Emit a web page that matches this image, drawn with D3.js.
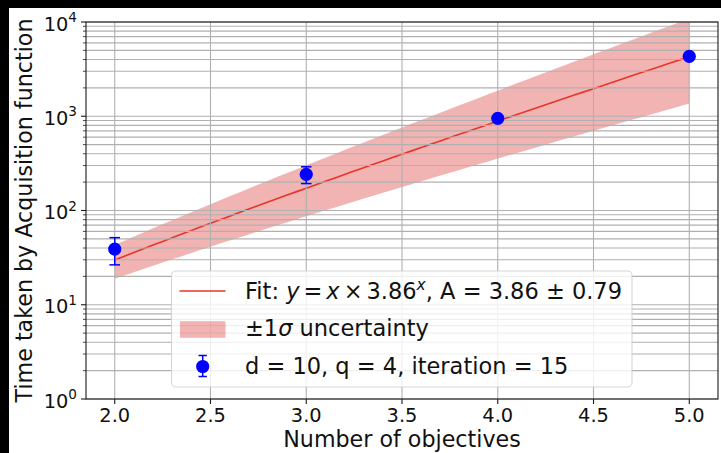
<!DOCTYPE html>
<html>
<head>
<meta charset="utf-8">
<script src="https://cdn.jsdelivr.net/npm/d3@7/dist/d3.min.js"></script>
<style>
  html, body { margin: 0; padding: 0; background: #000; }
  svg { display: block; }
  text { font-family: "DejaVu Sans", sans-serif; fill: #111; }
</style>
</head>
<body>
<svg id="chart" width="721" height="453"></svg>
<script>
// Measured acquisition-function timings per number of objectives
const objectives = [2, 3, 4, 5];
const timeMean = [39, 242, 951, 4325];
const timeStd = [12.5, 49, 25, 90];

// Fitted model y = x * A^x and its 1-sigma spread on A
const fitA = [3.86];
const fitSigma = [0.79];

const xTicks = [2.0, 2.5, 3.0, 3.5, 4.0, 4.5, 5.0];
const yDecades = [0, 1, 2, 3, 4];

const legendLabels = ["Fit: ", "±1", " uncertainty", "d = 10, q = 4, iteration = 15"];

const W = 721, H = 453;
const m = { left: 86, right: 718, top: 22, bottom: 399 };

const svg = d3.select("#chart");

// figure background (offset by a thin dark edge)
svg.append("rect").attr("x", 9).attr("y", 8).attr("width", W - 9).attr("height", H - 8).attr("fill", "#fff");

const x = d3.scaleLinear().domain([1.85, 5.15]).range([m.left, m.right]);
const y = d3.scaleLog().domain([1, 1e4]).range([m.bottom, m.top]);

svg.append("defs").append("clipPath").attr("id", "plotClip")
  .append("rect").attr("x", m.left).attr("y", m.top)
  .attr("width", m.right - m.left).attr("height", m.bottom - m.top);

const plot = svg.append("g").attr("clip-path", "url(#plotClip)");

// model curves sampled across the objective range
const model = (xv, a) => xv * Math.pow(a, xv);
const xs = d3.range(0, 61).map(i => objectives[0] + i * (objectives[objectives.length - 1] - objectives[0]) / 60);
const A = fitA[0], S = fitSigma[0];

// uncertainty band
const area = d3.area()
  .x(d => x(d))
  .y0(d => y(model(d, A - S)))
  .y1(d => y(model(d, A + S)));
plot.append("path").datum(xs).attr("d", area)
  .attr("fill", "#d60b0b").attr("fill-opacity", 0.31);

// grid: major and minor on the log axis, major on x
const gridColor = "#b0b0b0";
const yMinor = [];
yDecades.forEach(k => { if (k < 4) for (let j = 2; j <= 9; j++) yMinor.push(j * Math.pow(10, k)); });
const yMajor = yDecades.map(k => Math.pow(10, k));
const grid = svg.append("g");
grid.selectAll(".gy").data(yMinor.concat(yMajor)).join("line")
  .attr("x1", m.left).attr("x2", m.right)
  .attr("y1", d => y(d)).attr("y2", d => y(d))
  .attr("stroke", gridColor).attr("stroke-width", 1.1);
grid.selectAll(".gx").data(xTicks).join("line")
  .attr("x1", d => x(d)).attr("x2", d => x(d))
  .attr("y1", m.top).attr("y2", m.bottom)
  .attr("stroke", gridColor).attr("stroke-width", 1.1);

// fit line
const line = d3.line().x(d => x(d)).y(d => y(model(d, A)));
plot.append("path").datum(xs).attr("d", line)
  .attr("fill", "none").attr("stroke", "#e8352a").attr("stroke-width", 1.6);

// measurements with error bars
const pts = objectives.map((o, i) => ({ o, v: timeMean[i], e: timeStd[i] }));
const eb = svg.append("g");
pts.forEach(p => {
  const cx = x(p.o);
  const y1 = y(p.v + p.e), y2 = y(p.v - p.e);
  eb.append("line").attr("x1", cx).attr("x2", cx).attr("y1", y1).attr("y2", y2)
    .attr("stroke", "#0000ff").attr("stroke-width", 1.5);
  [y1, y2].forEach(yy => eb.append("line").attr("x1", cx - 5.3).attr("x2", cx + 5.3)
    .attr("y1", yy).attr("y2", yy).attr("stroke", "#0000ff").attr("stroke-width", 1.5));
  eb.append("circle").attr("cx", cx).attr("cy", y(p.v)).attr("r", 6.6).attr("fill", "#0000ff");
});

// axes frame
svg.append("rect").attr("x", m.left).attr("y", m.top)
  .attr("width", m.right - m.left).attr("height", m.bottom - m.top)
  .attr("fill", "none").attr("stroke", "#1a1a1a").attr("stroke-width", 1.1);

// y ticks
const ax = svg.append("g");
ax.selectAll(".ymaj").data(yMajor).join("line")
  .attr("x1", m.left - 5).attr("x2", m.left).attr("y1", d => y(d)).attr("y2", d => y(d))
  .attr("stroke", "#1a1a1a").attr("stroke-width", 1.1);
ax.selectAll(".ymin").data(yMinor).join("line")
  .attr("x1", m.left - 3).attr("x2", m.left).attr("y1", d => y(d)).attr("y2", d => y(d))
  .attr("stroke", "#1a1a1a").attr("stroke-width", 0.8);
yDecades.forEach(k => {
  const t = ax.append("text").attr("x", 77).attr("y", y(Math.pow(10, k)) + 8.7)
    .attr("text-anchor", "end").attr("font-size", 19.4);
  t.append("tspan").text("10");
  t.append("tspan").attr("dy", -8.7).attr("font-size", 13.6).text(k);
});

// x ticks
ax.selectAll(".xt").data(xTicks).join("line")
  .attr("x1", d => x(d)).attr("x2", d => x(d)).attr("y1", m.bottom).attr("y2", m.bottom + 5)
  .attr("stroke", "#1a1a1a").attr("stroke-width", 1.1);
ax.selectAll(".xl").data(xTicks).join("text")
  .attr("x", d => x(d)).attr("y", 422).attr("text-anchor", "middle").attr("font-size", 19.4)
  .text(d => d.toFixed(1));

// axis titles
svg.append("text").attr("x", (m.left + m.right) / 2).attr("y", 446.5)
  .attr("text-anchor", "middle").attr("font-size", 22.2).text("Number of objectives");
svg.append("text").attr("transform", `translate(31.5,${(m.top + m.bottom) / 2}) rotate(-90)`)
  .attr("text-anchor", "middle").attr("font-size", 22.2).text("Time taken by Acquisition function");

// legend
const lg = svg.append("g");
lg.append("rect").attr("x", 171.5).attr("y", 271).attr("width", 460.5).attr("height", 116)
  .attr("rx", 4.4).attr("fill", "#fff").attr("fill-opacity", 0.8)
  .attr("stroke", "#cccccc").attr("stroke-opacity", 0.8).attr("stroke-width", 1.1);
const rows = [291, 329.5, 366.5];
const tx = 245, fs = 22.5;
lg.append("line").attr("x1", 179.5).attr("x2", 225.5).attr("y1", rows[0]).attr("y2", rows[0])
  .attr("stroke", "#e8352a").attr("stroke-width", 1.6);
lg.append("rect").attr("x", 180).attr("y", rows[1] - 8.3).attr("width", 45.5).attr("height", 16.6)
  .attr("fill", "#d60b0b").attr("fill-opacity", 0.31);
lg.append("line").attr("x1", 202.7).attr("x2", 202.7).attr("y1", rows[2] - 11).attr("y2", rows[2] + 10)
  .attr("stroke", "#0000ff").attr("stroke-width", 1.5);
[rows[2] - 11, rows[2] + 10].forEach(yy => lg.append("line").attr("x1", 198.5).attr("x2", 206.9)
  .attr("y1", yy).attr("y2", yy).attr("stroke", "#0000ff").attr("stroke-width", 1.5));
lg.append("circle").attr("cx", 202.7).attr("cy", rows[2]).attr("r", 6.6).attr("fill", "#0000ff");

// fit label with math-style spacing around the operators
const t1 = lg.append("text").attr("x", tx).attr("y", rows[0] + 7.5).attr("font-size", fs);
t1.append("tspan").text(legendLabels[0]);
t1.append("tspan").attr("font-style", "italic").text("y");
t1.append("tspan").attr("dx", 4).text("=");
t1.append("tspan").attr("dx", 4).attr("font-style", "italic").text("x");
t1.append("tspan").attr("dx", 4).text("×");
t1.append("tspan").attr("dx", 4).text(fitA[0].toFixed(2));
t1.append("tspan").attr("dy", -9).attr("font-size", 15.5).attr("font-style", "italic").text("x");
t1.append("tspan").attr("dy", 9).text(`, A = ${fitA[0].toFixed(2)} ± ${fitSigma[0].toFixed(2)}`);

const t2 = lg.append("text").attr("x", tx).attr("y", rows[1] + 6.5).attr("font-size", fs);
t2.append("tspan").text(legendLabels[1]);
t2.append("tspan").attr("font-style", "italic").text("σ");
t2.append("tspan").text(legendLabels[2]);

lg.append("text").attr("x", tx).attr("y", rows[2] + 7).attr("font-size", fs).text(legendLabels[3]);
</script>
</body>
</html>
